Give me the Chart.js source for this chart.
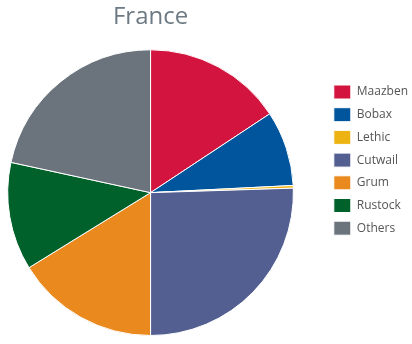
<!DOCTYPE html>
<html>
<head>
<meta charset="utf-8">
<script src="https://cdn.jsdelivr.net/npm/chart.js@4"></script>
<style>
  html, body { margin: 0; padding: 0; background: #fff; overflow: hidden; }
  #wrap { width: 412px; height: 344px; overflow: hidden; position: relative; }
  #chart { position: absolute; left: -24px; top: 0; }
</style>
</head>
<body>
<div id="wrap"><canvas id="chart" width="460" height="344"></canvas></div>
<script>
const botnets = ['Maazben', 'Bobax', 'Lethic', 'Cutwail', 'Grum', 'Rustock', 'Others'];
const shares = [15.7, 8.5, 0.3, 25.5, 16.2, 12.2, 21.6];
const sliceColors = ['#d2143f', '#00559d', '#edb312', '#535f91', '#ea8a1e', '#00622a', '#6b747c'];

// canvas is a bit wider than the window and shifted left so the pie sits where it should
const ctx = document.getElementById('chart').getContext('2d');
new Chart(ctx, {
    type: 'pie',
    data: {
        labels: botnets,
        datasets: [{
            data: shares,
            backgroundColor: sliceColors,
            borderColor: '#fff',
            borderWidth: 1,
        }]
    },
    options: {
        responsive: false,
        animation: false,
        layout: { padding: { left: 0, right: 18, top: 0, bottom: 8 } },
        plugins: {
            title: {
                display: true,
                text: 'France',
                fullSize: false,
                color: '#6d7a83',
                font: { family: 'Open Sans', size: 24, weight: 'normal', lineHeight: 1.2 },
                padding: { top: 2.5, bottom: 18 },
            },
            legend: {
                position: 'right',
                align: 'start',
                title: { display: true, text: '', padding: { top: 61.9, bottom: 0 } },
                labels: {
                    boxWidth: 17,
                    boxHeight: 14,
                    padding: 8.7,
                    color: '#555',
                    font: { family: 'Open Sans', size: 12 },
                },
            },
            tooltip: { enabled: false },
        }
    }
});
</script>
</body>
</html>
